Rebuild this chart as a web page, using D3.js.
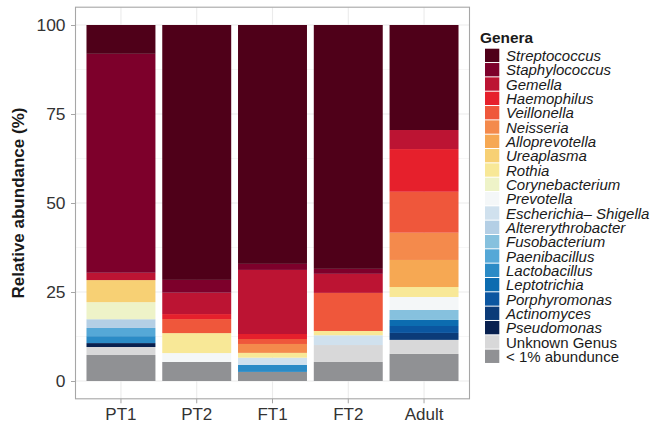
<!DOCTYPE html>
<html>
<head>
<meta charset="utf-8">
<script src="https://cdn.jsdelivr.net/npm/d3@7"></script>
<style>
  body { margin: 0; background: #fff; }
  svg { font-family: "Liberation Sans", Arial, sans-serif; }
</style>
</head>
<body>
<svg width="659" height="424"></svg>
<script>
// Samples on the x axis
const samples = ["PT1", "PT2", "FT1", "FT2", "Adult"];

// Genera, top of the stack first (same order as the legend)
const genera = ["Streptococcus", "Staphylococcus", "Gemella", "Haemophilus", "Veillonella",
  "Neisseria", "Alloprevotella", "Ureaplasma", "Rothia", "Corynebacterium", "Prevotella",
  "Escherichia\u2013 Shigella", "Altererythrobacter", "Fusobacterium", "Paenibacillus",
  "Lactobacillus", "Leptotrichia", "Porphyromonas", "Actinomyces", "Pseudomonas",
  "Unknown Genus", "< 1% abundunce"];

const generaColors = ["#4f0019", "#7d002b", "#bc1433", "#e6202c", "#ef573b", "#f48a4c",
  "#f6a853", "#f7d074", "#f8e897", "#eef3c8", "#f4f7f8", "#d0e1ee", "#b4cfe5", "#86c1de",
  "#55a8d7", "#2b8bc6", "#0c6cb0", "#0b56a0", "#0b3b78", "#08204f", "#d8d8d9", "#909194"];

// relative abundance (%) per sample, in genera order
const valsPT1 = [8.1, 61.5, 2.05, 0, 0, 0, 0, 6.2, 0, 4.8, 0, 0, 2.45, 0, 2.3, 1.95, 0, 0, 0, 1.1, 2.25, 7.3];
const valsPT2 = [71.6, 3.6, 6.0, 1.4, 3.95, 0, 0, 0, 5.6, 0, 2.5, 0, 0, 0, 0, 0, 0, 0, 0, 0, 0, 5.35];
const valsFT1 = [67.1, 1.7, 18.0, 1.4, 1.4, 2.5, 0, 0, 1.35, 0, 0, 2.05, 0, 0, 0, 1.95, 0, 0, 0, 0, 0, 2.55];
const valsFT2 = [68.5, 1.4, 5.35, 0, 10.7, 0, 0, 0, 1.2, 0, 0, 2.75, 0, 0, 0, 0, 0, 0, 0, 0, 4.75, 5.35];
const valsAdult = [29.5, 0, 5.35, 12.0, 11.5, 7.65, 7.6, 0, 2.8, 0, 3.65, 0, 0, 2.8, 0, 0, 1.7, 1.95, 1.95, 0, 3.95, 7.6];

const yTicks = [0, 25, 50, 75, 100];

const sampleValues = [valsPT1, valsPT2, valsFT1, valsFT2, valsAdult];
const table = samples.map(function(s, i) {
  const row = { sample: s };
  genera.forEach(function(g, j) { row[g] = sampleValues[i][j]; });
  return row;
});

const svg = d3.select("svg");
const margin = { left: 75.5, right: 469.5, top: 7.2, bottom: 398.8 };

// discrete axis with 0.6 expansion on each side, like ggplot
const step = (margin.right - margin.left) / (samples.length + 0.2);
const x = d3.scaleBand()
  .domain(samples)
  .range([margin.left + 0.1 * step, margin.right - 0.1 * step])
  .paddingInner(0.09)
  .paddingOuter(0.045);

const y = d3.scaleLinear().domain([-5, 105]).range([margin.bottom, margin.top]);
const color = d3.scaleOrdinal().domain(genera).range(generaColors);

// stack: last genus at the bottom
const stack = d3.stack().keys(genera.slice().reverse());
const series = stack(table);

// grid
const grid = svg.append("g");
[12.5, 37.5, 62.5, 87.5].forEach(function(v) {
  grid.append("line")
    .attr("x1", margin.left).attr("x2", margin.right)
    .attr("y1", y(v)).attr("y2", y(v))
    .attr("stroke", "#f0f0f0").attr("stroke-width", 0.6);
});
yTicks.forEach(function(v) {
  grid.append("line")
    .attr("x1", margin.left).attr("x2", margin.right)
    .attr("y1", y(v)).attr("y2", y(v))
    .attr("stroke", "#ebebeb").attr("stroke-width", 1.1);
});
samples.forEach(function(s) {
  const cx = x(s) + x.bandwidth() / 2;
  grid.append("line")
    .attr("x1", cx).attr("x2", cx)
    .attr("y1", margin.top).attr("y2", margin.bottom)
    .attr("stroke", "#ebebeb").attr("stroke-width", 1.1);
});

// bars
svg.append("g")
  .selectAll("g")
  .data(series)
  .join("g")
    .attr("fill", function(d) { return color(d.key); })
  .selectAll("rect")
  .data(function(d) { return d; })
  .join("rect")
    .attr("x", function(d) { return x(d.data.sample); })
    .attr("width", x.bandwidth())
    .attr("y", function(d) { return y(d[1]); })
    .attr("height", function(d) { return Math.max(0, y(d[0]) - y(d[1])); });

// panel border
svg.append("rect")
  .attr("x", margin.left).attr("y", margin.top)
  .attr("width", margin.right - margin.left)
  .attr("height", margin.bottom - margin.top)
  .attr("fill", "none").attr("stroke", "#a6a6a6").attr("stroke-width", 1.1);

// y axis
const yAxis = svg.append("g")
  .attr("transform", "translate(" + margin.left + ",0)")
  .call(d3.axisLeft(y).tickValues(yTicks).tickSize(4.5).tickPadding(5.5));
yAxis.select(".domain").remove();
yAxis.selectAll(".tick line").attr("stroke", "#a6a6a6");
yAxis.selectAll(".tick text")
  .attr("fill", "#333").attr("font-size", 17.4)
  .attr("font-family", "Liberation Sans, Arial, sans-serif");

// x axis
const xAxis = svg.append("g")
  .attr("transform", "translate(0," + margin.bottom + ")")
  .call(d3.axisBottom(x).tickSize(4.5).tickPadding(5));
xAxis.select(".domain").remove();
xAxis.selectAll(".tick line").attr("stroke", "#a6a6a6");
xAxis.selectAll(".tick text")
  .attr("fill", "#333").attr("font-size", 17)
  .attr("font-family", "Liberation Sans, Arial, sans-serif");

// y title
svg.append("text")
  .attr("transform", "translate(24," + ((margin.top + margin.bottom) / 2) + ") rotate(-90)")
  .attr("text-anchor", "middle")
  .attr("font-size", 17)
  .attr("font-weight", "bold")
  .attr("fill", "#1a1a1a")
  .text("Relative abundance (%)");

// legend
const legend = svg.append("g");
legend.append("text")
  .attr("x", 480).attr("y", 43)
  .attr("font-size", 15.4).attr("font-weight", "bold").attr("fill", "#1a1a1a")
  .text("Genera");

const keyH = 14.33;
const items = legend.selectAll("g.item")
  .data(genera)
  .join("g")
    .attr("class", "item")
    .attr("transform", function(d, i) { return "translate(485," + (48.7 + i * keyH) + ")"; });
items.append("rect")
  .attr("width", 14.3).attr("height", keyH - 1)
  .attr("fill", function(d) { return color(d); });
items.append("text")
  .attr("x", 21).attr("y", keyH / 2 + 5.3)
  .attr("font-size", 15)
  .attr("fill", "#1a1a1a")
  .attr("font-style", function(d, i) { return i < genera.length - 2 ? "italic" : "normal"; })
  .text(function(d) { return d; });
</script>
</body>
</html>
